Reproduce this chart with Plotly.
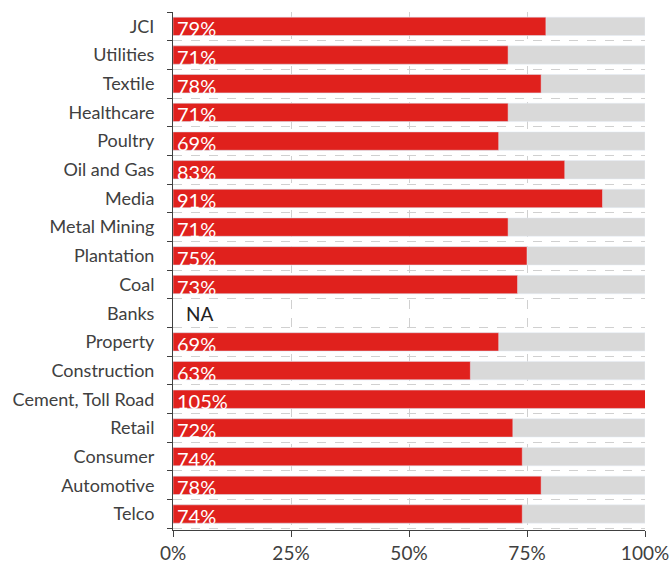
import plotly.graph_objects as go

categories = ["JCI", "Utilities", "Textile", "Healthcare", "Poultry", "Oil and Gas", "Media",
              "Metal Mining", "Plantation", "Coal", "Banks", "Property", "Construction",
              "Cement, Toll Road", "Retail", "Consumer", "Automotive", "Telco"]
values = [79, 71, 78, 71, 69, 83, 91, 71, 75, 73, None, 69, 63, 105, 72, 74, 78, 74]

cats = categories[::-1]
vals = values[::-1]
bg = [100 if v is not None else None for v in vals]

fig = go.Figure()
fig.add_trace(go.Bar(y=cats, x=bg, orientation="h", marker_color="#d9d9d9",
                     width=0.64, hoverinfo="skip", showlegend=False))
fig.add_trace(go.Bar(y=cats, x=vals, orientation="h", marker_color="#e0211d",
                     width=0.64, showlegend=False))

for c, v in zip(cats, vals):
    if v is None:
        fig.add_annotation(x=0, y=c, text="NA", showarrow=False, xanchor="left",
                           xshift=11, yshift=0, font=dict(color="#222222", size=19, family="Lato"))
    else:
        fig.add_annotation(x=0, y=c, text=f"{v}%", showarrow=False, xanchor="left",
                           xshift=2, yshift=-2, font=dict(color="#ffffff", size=20, family="Lato"))

fig.update_layout(
    width=670, height=565,
    margin=dict(l=173, r=25, t=12, b=35),
    plot_bgcolor="white", paper_bgcolor="white",
    barmode="overlay",
    font=dict(family="Lato", size=16, color="#404040"),
)
fig.update_xaxes(range=[0, 100], tickvals=[0, 25, 50, 75, 100],
                 ticktext=["0%", "25%", "50%", "75%", "100%"],
                 showgrid=True, gridcolor="#d0d0d0", griddash="dash", gridwidth=1,
                 showline=True, linecolor="#404040", linewidth=1,
                 ticks="outside", ticklen=6, tickcolor="#404040", automargin=False,
                 tickfont=dict(size=19, color="#404040"), zeroline=False, fixedrange=True)
fig.update_yaxes(categoryorder="array", categoryarray=cats, automargin=False,
                 tickson="boundaries", ticks="outside", ticklen=5, tickcolor="#404040",
                 showgrid=True, gridcolor="#d0d0d0", griddash="dash", gridwidth=1,
                 showline=True, linecolor="#404040", linewidth=1,
                 tickfont=dict(size=18, color="#404040"), ticklabelstandoff=14)

fig.write_html("out.html", config={"displayModeBar": False},
               post_script="document.body.style.margin='0';document.body.style.overflow='hidden';")
